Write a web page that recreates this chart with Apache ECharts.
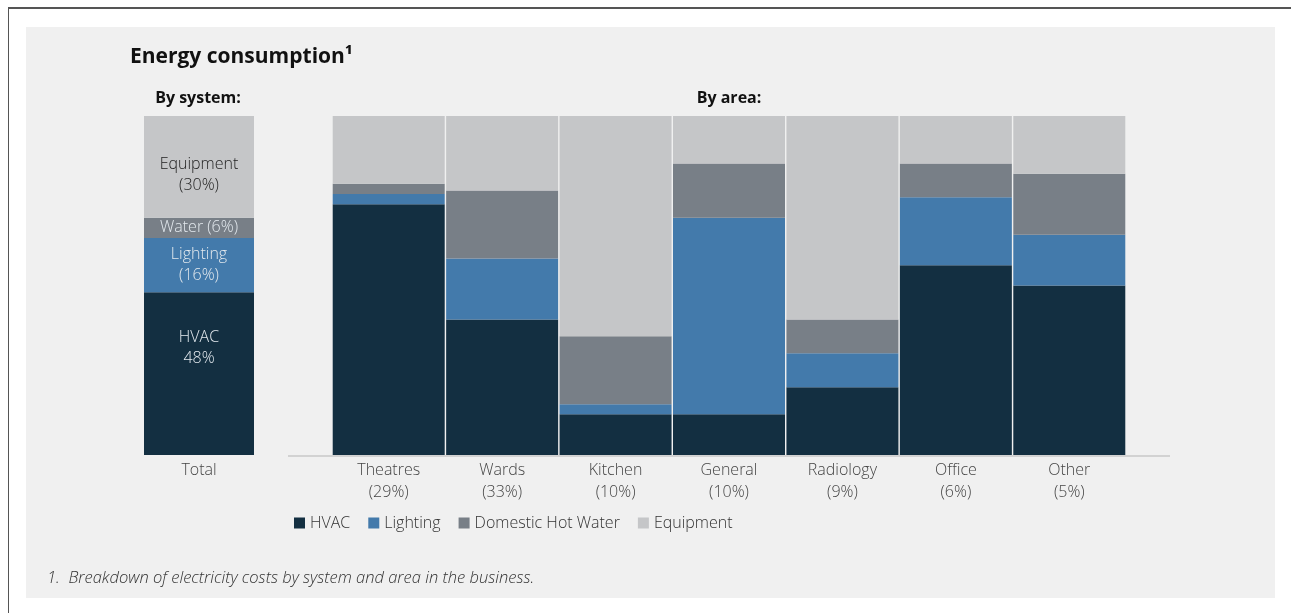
<!DOCTYPE html>
<html>
<head>
<meta charset="utf-8">
<script src="https://cdn.jsdelivr.net/npm/echarts@6/dist/echarts.min.js"></script>
<style>
  html, body { margin: 0; padding: 0; background: #ffffff; }
  #frame { position: absolute; left: 8px; top: 7px; width: 1283px; height: 606px;
           border-top: 2px solid #555; border-left: 1px solid #555; }
  #panel { position: absolute; left: 26px; top: 27px; width: 1249px; height: 571px; background: #f0f0f0; }
  #chart { position: absolute; left: 0; top: 0; width: 1291px; height: 613px; }
</style>
</head>
<body>
<div id="frame"></div>
<div id="panel"></div>
<div id="chart"></div>
<script>
// ---- data ----
const seriesNames = ['HVAC', 'Lighting', 'Domestic Hot Water', 'Equipment'];
const totalValues = [48, 16, 6, 30];
const totalLabelTemplates = ['HVAC\n{v}%', 'Lighting\n({v}%)', 'Water ({v}%)', 'Equipment\n({v}%)'];
const areaCategories = ['Theatres', 'Wards', 'Kitchen', 'General', 'Radiology', 'Office', 'Other'];
const areaShares = [29, 33, 10, 10, 9, 6, 5];
const hvac      = [74, 40, 12, 12, 20, 56, 50];
const lighting  = [3, 18, 3, 58, 10, 20, 15];
const hotWater  = [3, 20, 20, 16, 10, 10, 18];
const equipment = [20, 22, 65, 14, 60, 14, 17];

const colors = ['#132f41', '#437aab', '#787f87', '#c5c6c8'];
const labelColors = ['#e3e9ee', '#e3e9ee', '#e3e9ee', '#222222'];
const labelOffsets = [[0, -26], [0, 0], [0, 0], [0, 8]];
const areaData = [hvac, lighting, hotWater, equipment];
const FONT = 'Open Sans';

const chart = echarts.init(document.getElementById('chart'), null, { renderer: 'canvas' });

const series = [];
seriesNames.forEach((name, i) => {
  series.push({
    name: name, type: 'bar', stack: 'total', xAxisIndex: 0, yAxisIndex: 0,
    barWidth: '100%',
    itemStyle: { color: colors[i] },
    data: [totalValues[i]],
    label: {
      show: true, position: 'inside', offset: labelOffsets[i],
      fontFamily: FONT, fontSize: 16, fontWeight: 300, lineHeight: 21, color: labelColors[i],
      formatter: (p) => totalLabelTemplates[i].replace('{v}', p.value)
    },
    emphasis: { disabled: true }
  });
  series.push({
    name: name, type: 'bar', stack: 'area', xAxisIndex: 1, yAxisIndex: 1,
    barWidth: 112,
    itemStyle: { color: colors[i] },
    data: areaData[i],
    emphasis: { disabled: true }
  });
});

chart.setOption({
  animation: false,
  textStyle: { fontFamily: FONT },
  title: {
    text: 'Energy consumption\u00B9', left: 125, top: 42,
    textStyle: { fontFamily: FONT, fontSize: 21, fontWeight: 'bold', color: '#111' }
  },
  legend: {
    data: seriesNames, left: 289, top: 510,
    icon: 'rect', itemWidth: 11, itemHeight: 11, itemGap: 18,
    textStyle: { fontFamily: FONT, fontSize: 16, fontWeight: 300, color: '#333', padding: [0, 0, 0, 0] },
    selectedMode: false
  },
  grid: [
    { left: 144, top: 116, width: 110, height: 339 },
    { left: 332, top: 116, width: 794, height: 339 }
  ],
  xAxis: [
    { type: 'category', gridIndex: 0, data: ['Total'],
      axisLine: { show: false }, axisTick: { show: false },
      axisLabel: { fontFamily: FONT, fontSize: 16, fontWeight: 300, color: '#444', lineHeight: 22, margin: 4 } },
    { type: 'category', gridIndex: 1,
      data: areaCategories.map((c, i) => c + '\n(' + areaShares[i] + '%)'),
      axisLine: { show: false }, axisTick: { show: false },
      axisLabel: { fontFamily: FONT, fontSize: 16, fontWeight: 300, color: '#444', lineHeight: 22, margin: 4 } }
  ],
  yAxis: [
    { type: 'value', gridIndex: 0, min: 0, max: 100, show: false },
    { type: 'value', gridIndex: 1, min: 0, max: 100, show: false }
  ],
  graphic: [
    { type: 'line', shape: { x1: 288, y1: 456, x2: 1170, y2: 456 },
      style: { stroke: '#d2d2d2', lineWidth: 2 }, silent: true },
    { type: 'text', x: 198, y: 98,
      style: { text: 'By system:', font: 'bold 16px "Open Sans"', fill: '#111', textAlign: 'center', textVerticalAlign: 'middle' } },
    { type: 'text', x: 729, y: 98,
      style: { text: 'By area:', font: 'bold 16px "Open Sans"', fill: '#111', textAlign: 'center', textVerticalAlign: 'middle' } },
    { type: 'text', x: 47, y: 578,
      style: { text: '1.  Breakdown of electricity costs by system and area in the business.',
               font: 'italic 300 16.5px "Open Sans"', fill: '#333', textAlign: 'left', textVerticalAlign: 'middle' } }
  ],
  series: series
});
</script>
</body>
</html>
